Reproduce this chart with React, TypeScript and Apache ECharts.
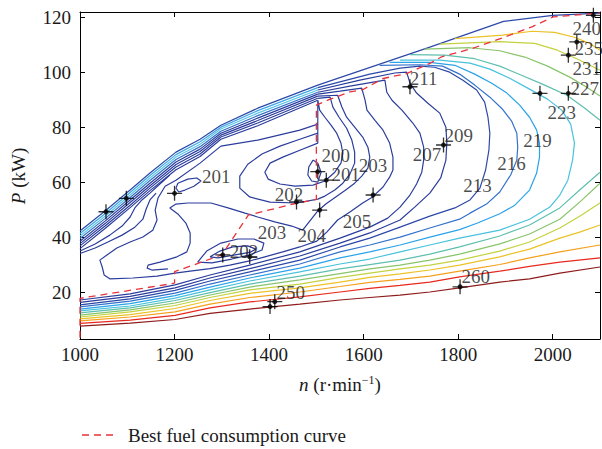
import React, { useEffect, useRef } from "react";
import * as echarts from "echarts";

const FONT = '"Liberation Serif", "Times New Roman", serif';

// ---------- data (n in r/min, P in kW) ----------
const outerEdge = [[1000,42.3],[1053,49.6],[1106,57.2],[1148,63.4],[1203,71.0],[1254,75.7],[1298,80.8],[1376,87.0],[1503,95.4],[1740,109.2],[1896,118.6],[2000,120.8],[2100,121.6]];
const fan1 = [[1000,41.4],[1053,48.6],[1106,56.3],[1148,62.5],[1203,70.1],[1254,74.8],[1298,80.1],[1376,86.1],[1503,94.5]];
const fan2 = [[1000,40.5],[1053,47.7],[1106,55.4],[1148,61.6],[1203,69.2],[1254,73.9],[1298,79.4],[1376,85.2],[1503,93.6]];
const fan3 = [[1000,39.6],[1053,46.8],[1106,54.5],[1148,60.7],[1203,68.3],[1254,73.0],[1298,78.6],[1376,84.3],[1503,92.8]];
const fan4 = [[1000,38.6],[1053,45.9],[1106,53.6],[1148,59.7],[1203,67.4],[1254,72.1],[1298,77.9],[1376,83.4],[1503,92.1]];
const fan5 = [[1000,37.7],[1053,45.0],[1106,52.7],[1148,58.8],[1203,66.5],[1254,71.2],[1298,77.2],[1376,82.5],[1503,91.4]];
const fan6 = [[1000,36.9],[1053,44.1],[1106,51.7],[1148,57.9],[1203,65.6],[1254,70.3],[1298,76.5],[1376,81.6],[1503,90.6]];
const fan7 = [[1000,35.9],[1053,43.2],[1106,50.8],[1148,57.0],[1203,64.6],[1254,69.4],[1298,75.7],[1376,80.6],[1503,89.9]];
const wiggle1 = [[1000,35.0],[1032,37.6],[1063,40.8],[1089,44.1],[1106,47.4],[1116,50.7],[1131,53.6],[1148,56.1],[1169,59.4],[1190,62.7]];
const wiggle2 = [[1000,34.1],[1032,36.1],[1059,38.3],[1089,40.8],[1116,43.7],[1133,46.6],[1140,50.3],[1148,53.6],[1161,56.1]];

const line200 = [[1493,68.1],[1484,65.6],[1482,62.7],[1490,60.5],[1503,60.1],[1510,63.7],[1503,67.0],[1493,68.1]];
const line201 = [[1503,89.9],[1507,86.3],[1518,83.7],[1531,80.8],[1543,77.9],[1552,74.3],[1556,70.6],[1552,67.0],[1539,63.7],[1518,60.5],[1493,59.0],[1455,58.6],[1423,59.4],[1398,61.2],[1391,63.7],[1402,67.0],[1429,69.2],[1465,71.7],[1503,74.3],[1503,89.9]];
const line202 = [[1503,90.6],[1529,91.0],[1535,87.4],[1548,83.7],[1564,79.7],[1575,75.4],[1581,71.0],[1581,67.0],[1571,63.0],[1556,59.7],[1539,57.2],[1518,55.0],[1503,53.9],[1459,52.5],[1402,52.8],[1359,54.7],[1338,57.9],[1338,62.3],[1355,66.6],[1385,70.3],[1423,73.2],[1465,75.7],[1503,77.9]];
const line204 = [[1503,91.4],[1545,91.7],[1554,87.4],[1564,83.7],[1581,80.1],[1598,76.5],[1609,72.8],[1613,69.2],[1609,65.2],[1596,62.3],[1581,59.7],[1562,57.2],[1541,54.7],[1520,52.1],[1503,49.6],[1486,45.9],[1471,42.6],[1448,44.1],[1412,45.6],[1376,47.4],[1349,48.8],[1313,50.7],[1277,52.5],[1228,52.5],[1203,52.1],[1190,50.7],[1207,48.5],[1224,45.2],[1233,41.6],[1233,37.9],[1226,34.7],[1205,32.9],[1169,31.0],[1144,29.9],[1142,28.8],[1152,28.1],[1186,28.5]];
const line205 = [[1503,92.1],[1550,93.2],[1596,94.3],[1603,89.9],[1607,86.3],[1624,82.6],[1641,79.0],[1655,74.3],[1662,69.2],[1662,64.5],[1655,61.9],[1641,58.3],[1619,54.7],[1598,52.5],[1571,49.2],[1545,46.3],[1522,41.9],[1501,38.6],[1465,36.5],[1429,34.7],[1391,32.9],[1359,31.4],[1317,29.9],[1275,28.6],[1233,27.7],[1201,27.0],[1163,25.9],[1112,25.2],[1063,24.9],[1051,26.3],[1047,29.2],[1042,31.7],[1057,33.6],[1078,36.1],[1106,38.3],[1133,40.1],[1154,42.6],[1163,46.3],[1159,49.9],[1165,54.3],[1180,58.6],[1203,60.8],[1254,67.0],[1298,73.2],[1376,75.4],[1465,79.0],[1503,81.2]];
const line207 = [[1503,92.8],[1571,95.0],[1645,97.2],[1649,92.8],[1660,89.9],[1681,86.3],[1704,81.6],[1719,77.9],[1727,72.8],[1727,68.1],[1723,63.7],[1712,59.4],[1698,55.4],[1677,51.0],[1651,47.0],[1613,43.7],[1550,39.7],[1465,34.7],[1359,29.9],[1275,26.3],[1201,22.7],[1106,19.4],[1000,17.2]];
const line209 = [[1503,93.6],[1592,97.2],[1666,99.8],[1691,100.1],[1698,96.1],[1712,92.5],[1736,88.8],[1761,85.2],[1774,80.1],[1776,74.3],[1774,68.1],[1763,61.6],[1740,56.1],[1708,51.0],[1677,46.3],[1613,41.6],[1550,37.9],[1465,33.2],[1359,28.6],[1275,25.2],[1201,21.6],[1106,18.5],[1000,16.3]];
const line213 = [[1503,94.5],[1613,99.4],[1677,101.6],[1719,102.3],[1750,101.9],[1782,100.1],[1810,97.2],[1839,93.6],[1856,89.2],[1863,83.7],[1867,77.9],[1865,71.7],[1858,64.5],[1846,57.9],[1825,53.6],[1793,50.7],[1740,47.7],[1677,43.7],[1613,39.7],[1550,36.5],[1465,31.7],[1359,27.4],[1275,24.1],[1201,20.7],[1106,17.6],[1000,15.4]];
const line216 = [[1634,102.6],[1719,102.8],[1767,102.3],[1803,99.4],[1835,95.4],[1867,91.0],[1894,86.6],[1913,82.3],[1924,77.9],[1926,72.8],[1924,68.1],[1911,62.7],[1888,56.5],[1860,52.1],[1825,48.8],[1803,46.6],[1740,43.4],[1677,40.1],[1613,37.2],[1550,34.7],[1465,30.3],[1359,26.3],[1275,23.0],[1201,19.7],[1106,16.8],[1000,14.7]];
const line219 = [[1655,103.7],[1740,103.7],[1793,102.6],[1835,99.4],[1871,96.1],[1903,92.5],[1930,88.1],[1951,83.7],[1966,79.0],[1972,74.3],[1972,69.2],[1966,63.4],[1951,57.2],[1920,51.7],[1888,48.6],[1841,45.2],[1803,42.8],[1740,40.1],[1677,37.2],[1613,34.7],[1550,32.5],[1465,28.8],[1359,25.2],[1275,21.9],[1201,18.8],[1106,15.9],[1000,13.9]];
const line223 = [[1677,104.5],[1761,104.5],[1825,103.4],[1867,101.2],[1909,97.9],[1947,94.3],[1989,90.3],[2019,86.3],[2038,81.2],[2046,74.3],[2042,68.1],[2032,60.8],[2015,55.4],[1994,51.0],[1951,46.6],[1888,42.6],[1803,39.7],[1740,37.2],[1677,34.7],[1613,32.1],[1550,30.3],[1465,27.4],[1359,24.1],[1275,20.9],[1201,17.9],[1106,15.0],[1000,13.2]];
const line227Top = [[1698,106.5],[1772,106.3],[1835,105.0],[1888,102.3],[1934,99.0],[1983,95.4],[2030,91.7],[2068,87.0],[2100,82.6]];
const line227Low = [[2100,63.7],[2057,57.2],[2015,50.7],[1951,44.5],[1888,40.5],[1803,36.5],[1740,33.9],[1677,31.7],[1613,30.1],[1550,28.5],[1465,25.9],[1359,23.0],[1275,19.9],[1201,17.0],[1106,14.3],[1000,12.5]];
const line231Top = [[1729,108.5],[1825,109.0],[1888,107.9],[1941,105.6],[1989,102.3],[2036,98.3],[2072,94.6],[2100,91.4]];
const line231Low = [[2100,59.7],[2057,52.8],[2015,46.6],[1951,41.2],[1888,37.6],[1803,33.9],[1740,31.7],[1677,29.9],[1613,28.5],[1550,26.8],[1465,24.5],[1359,21.9],[1275,19.0],[1201,16.1],[1106,13.6],[1000,11.7]];
const line235Top = [[1761,110.3],[1888,111.2],[1962,110.6],[2010,108.1],[2053,104.8],[2100,100.8]];
const line235Low = [[2100,52.5],[2057,47.7],[2015,43.4],[1951,38.3],[1888,35.0],[1803,31.7],[1740,29.9],[1677,28.5],[1613,27.0],[1550,25.4],[1465,23.0],[1359,20.9],[1275,18.1],[1201,15.2],[1106,12.9],[1000,11.0]];
const line240Top = [[1793,112.3],[1894,113.6],[1956,115.0],[2004,114.6],[2046,112.8],[2078,110.6],[2100,108.1]];
const line240Low = [[2100,44.5],[2057,41.9],[2015,39.7],[1951,35.7],[1888,32.9],[1803,29.9],[1740,28.1],[1677,26.7],[1613,25.4],[1550,23.7],[1465,21.6],[1359,19.6],[1275,17.0],[1201,14.1],[1106,11.9],[1000,10.3]];
const line250 = [[2100,37.2],[2015,34.7],[1951,32.5],[1888,30.1],[1803,27.7],[1740,25.9],[1677,24.7],[1613,23.6],[1550,22.1],[1465,20.1],[1359,18.1],[1275,15.7],[1201,12.9],[1106,11.0],[1000,9.6]];
const line260 = [[2100,32.5],[2015,31.0],[1951,29.4],[1888,27.7],[1803,25.6],[1740,23.7],[1677,22.5],[1613,21.4],[1550,20.1],[1465,18.3],[1359,16.5],[1275,14.3],[1201,11.6],[1106,9.9],[1000,8.7]];
const line270 = [[2100,29.2],[2015,27.0],[1951,24.9],[1888,23.7],[1803,21.6],[1740,20.1],[1677,19.0],[1613,18.1],[1550,17.2],[1465,15.7],[1359,13.9],[1275,12.3],[1201,10.1],[1106,8.8],[1000,7.7]];

const loopLeft201 = [[1207,59.7],[1228,61.2],[1247,61.6],[1256,60.5],[1241,58.6],[1222,57.2],[1209,56.5],[1203,57.9],[1207,59.7]];
const loopLow203 = [[1249,31.0],[1268,35.0],[1298,37.9],[1334,39.4],[1368,39.4],[1389,37.9],[1385,35.4],[1359,33.6],[1321,32.1],[1279,30.7],[1249,31.0]];
const loopLow202 = [[1275,32.9],[1296,35.0],[1323,36.5],[1355,36.9],[1372,35.7],[1359,34.5],[1328,33.6],[1292,32.5],[1275,32.9]];

const bestCurve = [[1000,3.5],[1000,17.8],[1200,23.3],[1200,27.5],[1300,33.6],[1356,48.1],[1458,52.4],[1500,53.8],[1500,88.1],[1528,90.2],[1571,92.9],[1599,93.8],[1641,97.8],[1691,99.6],[1740,103.3],[1765,105.7],[1829,108.7],[1899,112.9],[1956,116.6],[2001,120.2],[2100,121.6]];

const testPoints = [[1055,49.3],[1098,54.2],[1200,56.0],[1302,33.6],[1359,32.9],[1458,52.9],[1503,63.9],[1521,60.8],[1507,49.9],[1620,55.4],[1698,94.8],[1769,73.6],[1973,92.4],[2033,92.4],[2033,106.3],[2051,111.1],[2086,120.8],[1402,14.8],[1412,16.6],[1804,22.0]];

const labelTexts = ["200","201","203","201","202","203","202","204","205","207","209","211","213","216","219","223","227","231","235","240","250","260"];
const labelN = [1541,1562,1620,1288,1442,1406,1347,1490,1586,1734,1801,1727,1841,1913,1968,2019,2068,2072,2076,2072,1446,1837];
const labelP = [69.8,62.8,66.0,62.3,55.7,41.6,35.0,40.8,45.9,70.0,77.2,97.9,59.0,67.0,75.4,85.6,94.3,101.6,108.8,116.1,19.8,25.9];

const xTickValues = [1000, 1200, 1400, 1600, 1800, 2000];

// colours of the contour levels
const C_DARK = "#2b3d9c";
const C_DARK2 = "#2d49a8";
const C_216 = "#3272cc";
const C_219 = "#2aa3e8";
const C_223 = "#48c2dc";
const C_227 = "#5ebfae";
const C_231 = "#88c56a";
const C_235 = "#c3d23f";
const C_240 = "#ecc224";
const C_250 = "#f5a01c";
const C_260 = "#e8291f";
const C_270 = "#8f1c1c";

const contourTable = [
  { data: outerEdge, color: C_DARK2 },
  { data: fan1, color: "#3ea6e6" },
  { data: fan2, color: "#5cc6e6" },
  { data: fan3, color: "#3670c8" },
  { data: fan4, color: C_DARK },
  { data: fan5, color: C_DARK },
  { data: fan6, color: C_DARK },
  { data: fan7, color: C_DARK },
  { data: wiggle1, color: C_DARK },
  { data: wiggle2, color: C_DARK },
  { data: line200, color: C_DARK },
  { data: line201, color: C_DARK },
  { data: line202, color: C_DARK },
  { data: line204, color: C_DARK },
  { data: line205, color: C_DARK },
  { data: line207, color: C_DARK },
  { data: line209, color: C_DARK },
  { data: line213, color: C_DARK2 },
  { data: line216, color: C_216 },
  { data: line219, color: C_219 },
  { data: line223, color: C_223 },
  { data: line227Top, color: C_227 },
  { data: line227Low, color: C_227 },
  { data: line231Top, color: C_231 },
  { data: line231Low, color: C_231 },
  { data: line235Top, color: C_235 },
  { data: line235Low, color: C_235 },
  { data: line240Top, color: C_240 },
  { data: line240Low, color: C_240 },
  { data: line250, color: C_250 },
  { data: line260, color: C_260 },
  { data: line270, color: C_270 },
  { data: loopLeft201, color: C_DARK },
  { data: loopLow203, color: C_DARK },
  { data: loopLow202, color: C_DARK },
];

const RED = "#e8333a";

export default function App() {
  const ref = useRef<HTMLDivElement>(null);

  useEffect(() => {
    if (!ref.current) return;
    const chart = echarts.init(ref.current, null, { renderer: "svg" });

    const axisCommon = {
      type: "value" as const,
      axisLine: { show: true, onZero: false, lineStyle: { color: "#000", width: 1 } },
      axisTick: { show: true, inside: true, length: 5, lineStyle: { color: "#000", width: 1 } },
      splitLine: { show: false },
    };

    const option: any = {
      animation: false,
      backgroundColor: "#fff",
      grid: { left: 80, right: 2, top: 12, bottom: 110, containLabel: false, outerBoundsMode: "none" },
      xAxis: [
        {
          ...axisCommon,
          min: 1000, max: 2100, interval: 200, position: "bottom",
          axisLabel: {
            show: true, fontSize: 19, fontFamily: FONT, color: "#1a1a1a", margin: 6, showMaxLabel: false,
            formatter: (v: number) => (xTickValues.includes(v) ? String(v) : ""),
          },
        },
        {
          ...axisCommon,
          min: 1000, max: 2100, interval: 200, position: "top",
          axisLabel: { show: false },
        },
      ],
      yAxis: [
        {
          ...axisCommon,
          min: 3, max: 122, splitNumber: 6, position: "left",
          axisLabel: {
            show: true, fontSize: 19, fontFamily: FONT, color: "#1a1a1a", margin: 9, showMinLabel: false, showMaxLabel: false,
            formatter: (v: number) => String(v),
          },
        },
        {
          ...axisCommon,
          min: 3, max: 122, splitNumber: 6, position: "right",
          axisLabel: { show: false },
        },
      ],
      series: [
        ...contourTable.map((c) => ({
          type: "line",
          data: c.data,
          showSymbol: false,
          symbol: "none",
          silent: true,
          z: 2,
          lineStyle: { color: c.color, width: 1.2 },
        })),
        {
          type: "line",
          data: bestCurve,
          showSymbol: false,
          symbol: "none",
          silent: true,
          z: 3,
          lineStyle: { color: RED, width: 1.3, type: [7, 5] },
        },
        {
          type: "scatter",
          data: testPoints,
          symbol: "path://M5,0L5,10M0,5L10,5",
          symbolSize: 15,
          silent: true,
          z: 4,
          itemStyle: { color: "rgba(0,0,0,0)", borderColor: "#000", borderWidth: 1.3 },
        },
        {
          type: "scatter",
          data: testPoints,
          symbol: "circle",
          symbolSize: 5,
          silent: true,
          z: 4,
          itemStyle: { color: "#000" },
        },
        {
          type: "scatter",
          data: labelTexts.map((t, i) => ({ name: t, value: [labelN[i], labelP[i]] })),
          symbolSize: 0,
          silent: true,
          z: 5,
          label: {
            show: true,
            position: "inside",
            formatter: "{b}",
            fontSize: 19,
            fontFamily: FONT,
            color: "#1a1a1a",
          },
        },
      ],
      graphic: [
        {
          type: "text",
          x: 18,
          y: 176,
          rotation: Math.PI / 2,
          style: {
            text: "{i|P} (kW)",
            fontSize: 19,
            fontFamily: FONT,
            fill: "#1a1a1a",
            align: "center",
            verticalAlign: "middle",
            rich: {
              i: { fontSize: 19, fontFamily: FONT, fontStyle: "italic", fill: "#1a1a1a" },
            },
          },
        },
        {
          type: "text",
          x: 340,
          y: 384,
          style: {
            text: "{i|n} (r·min{s|−1})",
            fontSize: 19,
            fontFamily: FONT,
            fill: "#1a1a1a",
            align: "center",
            verticalAlign: "middle",
            rich: {
              i: { fontSize: 19, fontFamily: FONT, fontStyle: "italic", fill: "#1a1a1a" },
              s: { fontSize: 12, fontFamily: FONT, fill: "#1a1a1a", verticalAlign: "top", padding: [0, 0, 8, 0] },
            },
          },
        },
        {
          type: "line",
          shape: { x1: 82, y1: 435, x2: 116, y2: 435 },
          style: { stroke: RED, lineWidth: 1.3, lineDash: [7, 5] },
        },
        {
          type: "text",
          x: 128,
          y: 435,
          style: {
            text: "Best fuel consumption curve",
            fontSize: 19,
            fontFamily: FONT,
            fill: "#1a1a1a",
            align: "left",
            verticalAlign: "middle",
          },
        },
      ],
    };

    chart.setOption(option);
    return () => chart.dispose();
  }, []);

  return (
    <div
      ref={ref}
      style={{ position: "absolute", left: 0, top: 0, width: 602, height: 449, background: "#fff" }}
    />
  );
}
